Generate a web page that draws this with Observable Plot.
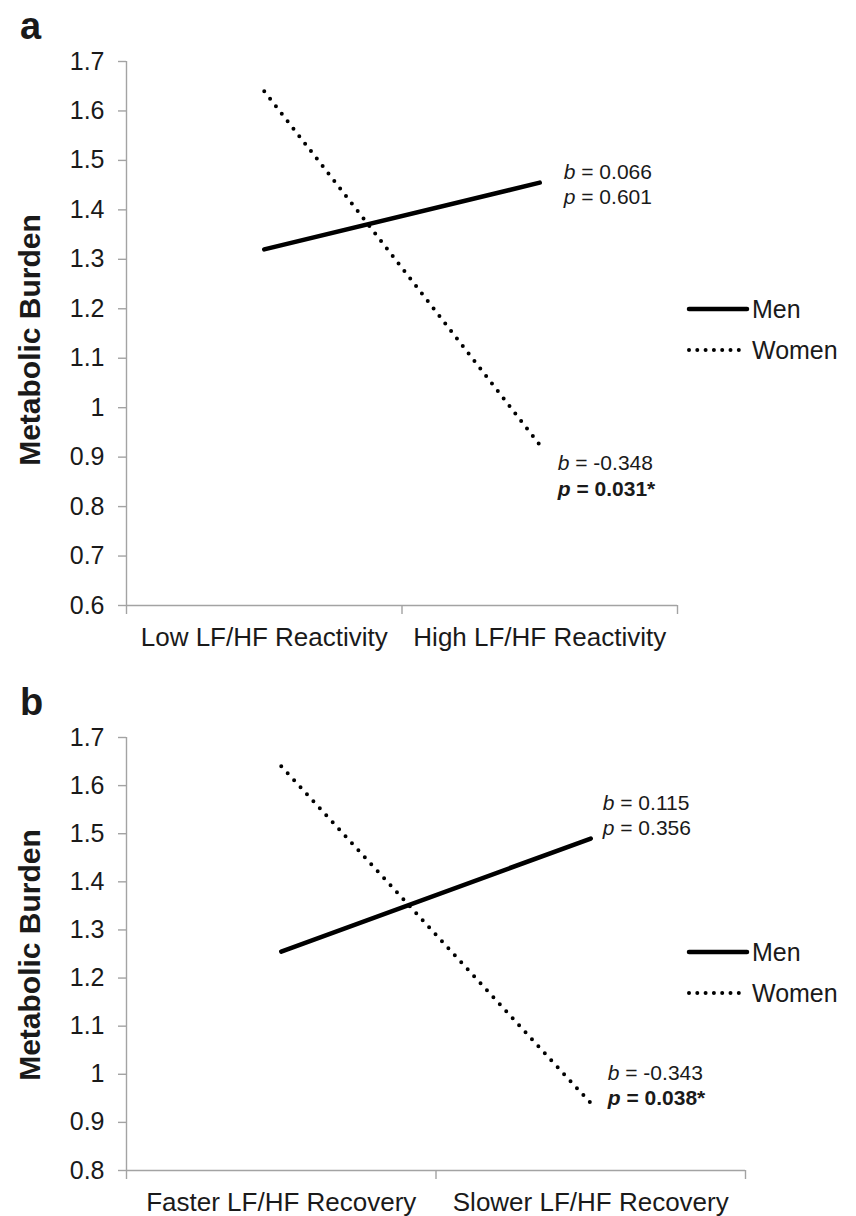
<!DOCTYPE html>
<html><head><meta charset="utf-8">
<script src="https://cdn.jsdelivr.net/npm/d3@7"></script>
<script src="https://cdn.jsdelivr.net/npm/@observablehq/plot@0.6"></script>
<style>
body{margin:0;background:#fff;}
.panel{position:relative;width:856px;}
.panel svg.overlay{position:absolute;left:0;top:0;pointer-events:none;overflow:visible}
</style></head><body><div id="fig"></div>
<script>
const FONT = '"Liberation Sans", Arial, Helvetica, sans-serif';
const series = ["Men", "Women"];

// Panel a
const catsA = ["Low LF/HF Reactivity", "High LF/HF Reactivity"];
const menA = [1.32, 1.455];
const womenA = [1.64, 0.925];
const bA = ["0.066", "-0.348"];
const pA = ["0.601", "0.031"];
const sigA = [false, true];
const yTicksA = [0.6, 0.7, 0.8, 0.9, 1.0, 1.1, 1.2, 1.3, 1.4, 1.5, 1.6, 1.7];

// Panel b
const catsB = ["Faster LF/HF Recovery", "Slower LF/HF Recovery"];
const menB = [1.255, 1.49];
const womenB = [1.64, 0.94];
const bB = ["0.115", "-0.343"];
const pB = ["0.356", "0.038"];
const sigB = [false, true];
const yTicksB = [0.8, 0.9, 1.0, 1.1, 1.2, 1.3, 1.4, 1.5, 1.6, 1.7];

const fmt = d => String(+d.toFixed(1));
const AXIS = "#a3a3a3", INK = "#1a1a1a";

function panel(o) {
  const yMin = o.yTicks[0], yMax = o.yTicks[o.yTicks.length - 1];
  const rows = (vals, s) => vals.map((v, i) => ({series: s, cat: o.cats[i], x: i + 0.5, y: v}));
  const men = rows(o.men, "Men"), women = rows(o.women, "Women");
  const menEnd = [men[1]], womenEnd = [women[1]];
  const ann = (end, k, which, dy) => Plot.text(end, {
    x: "x", y: "y", text: () => which === "b" ? `b = ${o.b[k]}` : `p = ${o.p[k]}${o.sig[k] ? "*" : ""}`,
    textAnchor: "start", dx: o.annDx[k], dy, fontSize: 21, fill: INK,
    fontWeight: which === "p" && o.sig[k] ? "bold" : "normal"
  });
  const chart = Plot.plot({
    width: 856, height: o.height,
    marginLeft: 126, marginRight: o.marginRight, marginTop: o.marginTop, marginBottom: o.marginBottom,
    style: {fontFamily: FONT, fontSize: "25px", color: INK, background: "white", overflow: "visible"},
    x: {domain: [0, 2], axis: null},
    y: {domain: [yMin, yMax], axis: null},
    marks: [
      Plot.ruleX([0], {y1: yMin, y2: yMax, stroke: AXIS, strokeWidth: 1.4}),
      Plot.ruleY([yMin], {x1: 0, x2: 2, stroke: AXIS, strokeWidth: 1.4}),
      Plot.axisY(o.yTicks, {tickSize: 8, tickPadding: 14, tickFormat: fmt, stroke: AXIS, strokeWidth: 1.4, fill: INK, fontSize: 25, label: null}),
      Plot.axisX([0, 1, 2], {tickSize: 9, tickFormat: () => "", stroke: AXIS, strokeWidth: 1.4, label: null}),
      Plot.axisX([0.5, 1.5], {tickSize: 0, tickPadding: 22, tickFormat: d => o.cats[Math.floor(d)], fill: INK, fontSize: 26, label: null}),
      Plot.line(men, {x: "x", y: "y", stroke: "black", strokeWidth: 4.5, strokeLinecap: "round"}),
      Plot.line(women, {x: "x", y: "y", stroke: "black", strokeWidth: 4, strokeDasharray: "0 9.5", strokeLinecap: "round"}),
      ann(menEnd, 0, "b", o.menDy[0]), ann(menEnd, 0, "p", o.menDy[1]),
      ann(womenEnd, 1, "b", o.womenDy[0]), ann(womenEnd, 1, "p", o.womenDy[1])
    ]
  });
  // italicise b / p
  chart.querySelectorAll("text").forEach(t => {
    const m = /^([bp]) = (.*)$/.exec(t.textContent);
    if (!m) return;
    t.textContent = "";
    const ns = "http://www.w3.org/2000/svg";
    const a = document.createElementNS(ns, "tspan"); a.setAttribute("font-style", "italic"); a.textContent = m[1];
    const b = document.createElementNS(ns, "tspan"); b.textContent = " = " + m[2];
    t.appendChild(a); t.appendChild(b);
  });
  const wrap = document.createElement("div");
  wrap.className = "panel";
  wrap.style.height = o.height + "px";
  wrap.appendChild(chart);
  const ov = d3.create("svg").attr("class", "overlay").attr("width", 856).attr("height", o.height)
    .style("font-family", FONT).style("fill", INK);
  ov.append("text").attr("x", 20).attr("y", o.labelY).attr("font-size", 38).attr("font-weight", "bold").text(o.label);
  ov.append("text").attr("transform", `translate(40,${o.titleY}) rotate(-90)`).attr("text-anchor", "middle")
    .attr("font-size", 30).attr("font-weight", "bold").text("Metabolic Burden");
  const lg = ov.append("g").attr("transform", `translate(689,${o.legendY})`);
  lg.append("line").attr("x1", 0).attr("x2", 58).attr("y1", 0).attr("y2", 0).attr("stroke", "black").attr("stroke-width", 4.5).attr("stroke-linecap", "round");
  lg.append("text").attr("x", 63).attr("y", 9).attr("font-size", 25).text(series[0]);
  lg.append("line").attr("x1", 0).attr("x2", 50).attr("y1", 41).attr("y2", 41).attr("stroke", "black").attr("stroke-width", 4).attr("stroke-dasharray", "0 8.3").attr("stroke-linecap", "round");
  lg.append("text").attr("x", 63).attr("y", 50).attr("font-size", 25).text(series[1]);
  wrap.appendChild(ov.node());
  return wrap;
}

const fig = document.getElementById("fig");
fig.appendChild(panel({label: "a", cats: catsA, men: menA, women: womenA, b: bA, p: pA, sig: sigA, yTicks: yTicksA,
  height: 660, marginTop: 61, marginBottom: 55, marginRight: 179,
  annDx: [24, 18], menDy: [-10, 15], womenDy: [18, 44], labelY: 39, titleY: 340, legendY: 309}));
fig.appendChild(panel({label: "b", cats: catsB, men: menB, women: womenB, b: bB, p: pB, sig: sigB, yTicks: yTicksB,
  height: 556, marginTop: 77, marginBottom: 46, marginRight: 111,
  annDx: [12, 17], menDy: [-35, -10], womenDy: [-30, -5], labelY: 55, titleY: 295, legendY: 292}));
</script></body></html>
